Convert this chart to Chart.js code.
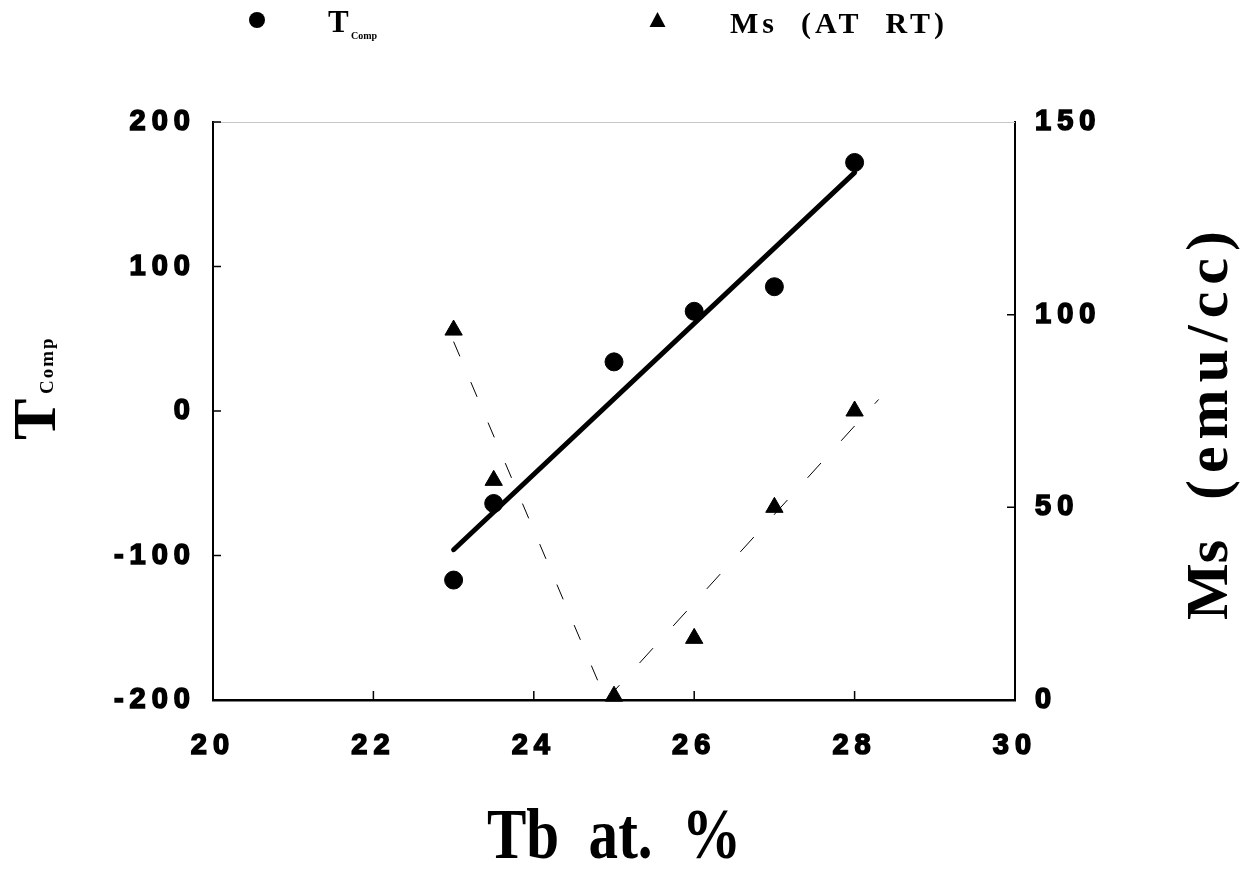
<!DOCTYPE html>
<html>
<head>
<meta charset="utf-8">
<title>Tcomp and Ms vs Tb</title>
<script src="https://cdn.jsdelivr.net/npm/chart.js@4.4.1/dist/chart.umd.min.js"></script>
<style>
  html, body { margin: 0; padding: 0; background: #fff; }
  #wrap { position: relative; width: 1240px; height: 873px; }
</style>
</head>
<body>
<div id="wrap"><canvas id="chart"></canvas></div>
<script>
// Tb content (at. %) of the samples
const tbPercent = [23, 23.5, 25, 26, 27, 28];
// compensation temperature, left axis
const tComp = [-117, -64, 34, 69, 86, 172];
// saturation magnetisation at room temperature, right axis (emu/cc)
const msRT = [96, 57, 1, 16, 50, 75];

// straight fit through the Tcomp points
const tCompFitX = [23, 28];
const tCompFitY = [-96, 165];

// dashed guide lines through the Ms points
const msDownX = [23, 24.9];
const msDownY = [93, 0];
const msUpX = [24.9, 28.3];
const msUpY = [0, 78];

// tick labels
const xTickValues = [20, 22, 24, 26, 28, 30];
const tTickValues = [-200, -100, 0, 100, 200];
const msTickValues = [0, 50, 100, 150];

const toPoints = (xs, ys) => xs.map((x, i) => ({ x: x, y: ys[i] }));
const setTicks = values => scale => { scale.ticks = values.map(v => ({ value: v })); };

const tickFont = { family: '"Liberation Sans", Arial, sans-serif', size: 29, weight: 'bold' };
const tickStyle = { color: '#000', font: tickFont, textStrokeColor: '#000', textStrokeWidth: 1.6 };

const decorations = {
    id: 'decorations',
    beforeDraw(chart) {
        chart.ctx.letterSpacing = '6px';
    },
    afterDraw(chart) {
        const { ctx, chartArea: a, scales } = chart;
        ctx.save();
        ctx.letterSpacing = '0px';
        ctx.setLineDash([]);

        // faint top edge of the frame
        ctx.strokeStyle = '#c8c8c8';
        ctx.lineWidth = 1;
        ctx.beginPath();
        ctx.moveTo(a.left, a.top + 0.5);
        ctx.lineTo(a.right, a.top + 0.5);
        ctx.stroke();

        // tick marks pointing into the plot
        ctx.strokeStyle = '#000';
        ctx.lineWidth = 1.5;
        ctx.beginPath();
        tTickValues.slice(1).forEach(v => {
            const y = scales.y.getPixelForValue(v);
            ctx.moveTo(a.left, y);
            ctx.lineTo(a.left + 8, y);
        });
        msTickValues.slice(1, -1).forEach(v => {
            const y = scales.y1.getPixelForValue(v);
            ctx.moveTo(a.right, y);
            ctx.lineTo(a.right - 8, y);
        });
        xTickValues.slice(1, -1).forEach(v => {
            const x = scales.x.getPixelForValue(v);
            ctx.moveTo(x, a.bottom);
            ctx.lineTo(x, a.bottom - 9);
        });
        ctx.stroke();

        ctx.fillStyle = '#000';
        ctx.textBaseline = 'alphabetic';
        ctx.textAlign = 'left';
        const serif = '"Liberation Serif", "Times New Roman", serif';

        // x axis title
        ctx.save();
        ctx.translate(614, 858);
        ctx.scale(0.82, 1);
        ctx.textAlign = 'center';
        ctx.font = 'bold 72px ' + serif;
        ctx.fillText('Tb  at.  %', 0, 0);
        ctx.restore();

        // left axis title, T with subscript Comp
        ctx.save();
        ctx.translate(55, 440);
        ctx.rotate(-Math.PI / 2);
        ctx.font = 'bold 62px ' + serif;
        ctx.fillText('T', 0, 0);
        ctx.font = 'bold 19px ' + serif;
        ctx.letterSpacing = '2px';
        ctx.fillText('Comp', 46, -2);
        ctx.restore();

        // right axis title
        ctx.save();
        ctx.translate(1227, 620);
        ctx.rotate(-Math.PI / 2);
        ctx.font = 'bold 60px ' + serif;
        ctx.fillText('Ms', 0, 0);
        ctx.letterSpacing = '7px';
        ctx.fillText('(emu/cc)', 120, 0);
        ctx.restore();

        // legend
        ctx.beginPath();
        ctx.arc(257, 20, 8, 0, Math.PI * 2);
        ctx.fill();
        ctx.font = 'bold 31px ' + serif;
        ctx.fillText('T', 328, 32);
        ctx.font = 'bold 10px ' + serif;
        ctx.fillText('Comp', 351, 39);

        ctx.beginPath();
        ctx.moveTo(657.5, 12);
        ctx.lineTo(665.5, 27);
        ctx.lineTo(649.5, 27);
        ctx.closePath();
        ctx.fill();
        ctx.font = 'bold 30px ' + serif;
        ctx.letterSpacing = '4px';
        ctx.fillText('Ms  (AT  RT)', 730, 33);

        ctx.restore();
    }
};

const ctx = document.getElementById('chart').getContext('2d');

new Chart(ctx, {
    type: 'scatter',
    data: {
        datasets: [
            {
                label: 'Tcomp',
                data: toPoints(tbPercent, tComp),
                yAxisID: 'y',
                pointStyle: 'circle',
                pointRadius: 9,
                backgroundColor: '#000',
                borderColor: '#000',
                clip: false
            },
            {
                label: 'Tcomp fit',
                data: toPoints(tCompFitX, tCompFitY),
                yAxisID: 'y',
                showLine: true,
                pointRadius: 0,
                borderColor: '#000',
                borderWidth: 5,
                borderCapStyle: 'round'
            },
            {
                label: 'Ms (AT RT)',
                data: toPoints(tbPercent, msRT),
                yAxisID: 'y1',
                pointStyle: 'triangle',
                pointRadius: 10,
                backgroundColor: '#000',
                borderColor: '#000',
                clip: false
            },
            {
                label: 'Ms falling',
                data: toPoints(msDownX, msDownY),
                yAxisID: 'y1',
                showLine: true,
                pointRadius: 0,
                borderColor: '#000',
                borderWidth: 1,
                borderDash: [16, 28],
                clip: false
            },
            {
                label: 'Ms rising',
                data: toPoints(msUpX, msUpY),
                yAxisID: 'y1',
                showLine: true,
                pointRadius: 0,
                borderColor: '#000',
                borderWidth: 1,
                borderDash: [20, 30],
                clip: false
            }
        ]
    },
    options: {
        responsive: true,
        maintainAspectRatio: false,
        animation: false,
        layout: { padding: { top: 122, left: 0, right: 0, bottom: 0 } },
        plugins: {
            legend: { display: false },
            tooltip: { enabled: false }
        },
        scales: {
            x: {
                type: 'linear',
                min: 20,
                max: 30,
                afterBuildTicks: setTicks(xTickValues),
                afterFit: scale => { scale.height = 173; },
                grid: { display: false, drawTicks: false },
                border: { display: true, color: '#000', width: 2.5 },
                ticks: { ...tickStyle, padding: 29, maxRotation: 0 }
            },
            y: {
                type: 'linear',
                position: 'left',
                min: -200,
                max: 200,
                afterBuildTicks: setTicks(tTickValues),
                afterFit: scale => { scale.width = 213; },
                grid: { display: false, drawTicks: false },
                border: { display: true, color: '#000', width: 2 },
                ticks: { ...tickStyle, padding: 17 }
            },
            y1: {
                type: 'linear',
                position: 'right',
                min: 0,
                max: 150,
                afterBuildTicks: setTicks(msTickValues),
                afterFit: scale => { scale.width = 225; },
                grid: { display: false, drawTicks: false },
                border: { display: true, color: '#000', width: 2 },
                ticks: { ...tickStyle, padding: 20 }
            }
        }
    },
    plugins: [decorations]
});
</script>
</body>
</html>
